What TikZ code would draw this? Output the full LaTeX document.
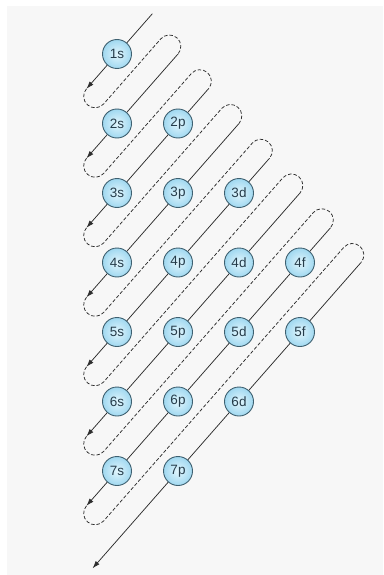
\documentclass[tikz,border=0pt]{standalone}
\usepackage{fontspec}
\newfontfamily\orbfont{Liberation Sans}
\usetikzlibrary{arrows.meta,calc}

\definecolor{panel}{RGB}{247,247,247}
\definecolor{orbin}{RGB}{226,246,253}
\definecolor{orbout}{RGB}{160,216,240}
\definecolor{orbedge}{RGB}{62,96,112}
\definecolor{orbtext}{RGB}{38,60,74}
\definecolor{pathgray}{RGB}{45,45,45}

\begin{document}
\begin{tikzpicture}[x=1pt,y=1pt,
  orbital/.style={circle,draw=orbedge,line width=0.9pt,inner color=orbin,outer color=orbout,minimum size=29pt,inner sep=0pt,font=\orbfont\fontsize{13.5}{14}\selectfont,text=orbtext},
  fillpath/.style={draw=pathgray,line width=0.75pt,-{Latex[length=7.5pt,width=5pt]}},
  backpath/.style={draw=pathgray,line width=0.75pt,dash pattern=on 3.5pt off 2pt}]
\useasboundingbox (0,0) rectangle (383,-575);
\fill[white] (0,0) rectangle (383,-575);
\fill[panel] (7,-6) rectangle (383,-575);

% start and end of each diagonal
\foreach \k/\cs/\ce in {1/0.58/-0.5,2/1/-0.5,3/1.5/-0.5,4/2/-0.5,5/2.5/-0.5,6/3/-0.5,7/3.5/-0.5,8/4/-0.4}{
  \coordinate (top\k) at ({117+61*(\cs)},{-(54+69.5*(\k-1-(\cs)))});
  \coordinate (tip\k) at ({117+61*(\ce)},{-(54+69.5*(\k-1-(\ce)))});
}

% dashed way back to the next diagonal
\foreach \k [evaluate=\k as \n using int(\k+1)] in {1,...,7}
  \draw[backpath] (tip\k) arc[start angle=138.73,end angle=318.73,radius=11.46]
    -- ($(top\n)+(138.73:22.92)$) arc[start angle=138.73,end angle=-41.27,radius=11.46];

% filling order
\foreach \k in {1,...,8}
  \draw[fillpath] (top\k) -- (tip\k);

% subshells
\foreach \n/\c/\l in {1/0/s,2/0/s,2/1/p,3/0/s,3/1/p,3/2/d,4/0/s,4/1/p,4/2/d,4/3/f,
    5/0/s,5/1/p,5/2/d,5/3/f,6/0/s,6/1/p,6/2/d,7/0/s,7/1/p}
  \node[orbital] (o\n\l) at ({117+61*\c},{-(54+69.5*(\n-1))}) {\n\l};
\end{tikzpicture}
\end{document}
